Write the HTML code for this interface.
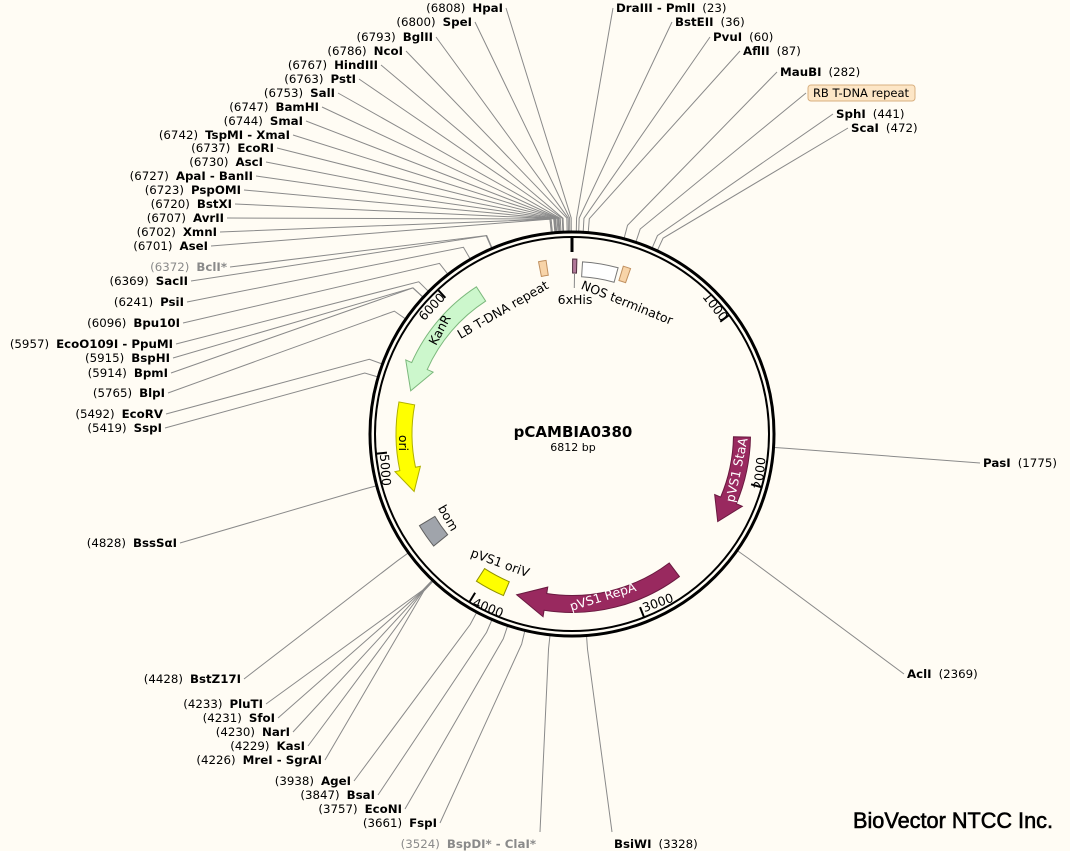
<!DOCTYPE html>
<html><head><meta charset="utf-8"><style>
html,body{margin:0;padding:0;background:#fffcf4;}
svg{display:block;font-family:"DejaVu Sans","Liberation Sans",sans-serif;}
</style></head><body>
<svg id="s" width="1070" height="851" viewBox="0 0 1070 851" xmlns="http://www.w3.org/2000/svg">
<rect width="1070" height="851" fill="#fffcf4"/>
<g id="lines" stroke="#8a8a8a" stroke-width="1" fill="none"></g>
<g id="labels" font-size="11.8"></g>
<circle cx="572" cy="434" r="202" fill="none" stroke="#000" stroke-width="3"/>
<circle cx="572" cy="434" r="197" fill="none" stroke="#000" stroke-width="2"/>
<g id="feat"></g>
<g font-size="12.5" fill="#000">
<text x="503" y="314" transform="rotate(-30 503 310)" text-anchor="middle">LB T-DNA repeat</text>
<text x="575" y="304" text-anchor="middle">6xHis</text>
<text x="627" y="307" transform="rotate(22 627 303)" text-anchor="middle">NOS terminator</text>
<text x="440" y="334" transform="rotate(-62 440 330)" text-anchor="middle">KanR</text>
<text x="403" y="447" transform="rotate(90 403 443)" text-anchor="middle">ori</text>
<text x="448" y="522" transform="rotate(60 448 518)" text-anchor="middle">bom</text>
<text x="500" y="567" transform="rotate(20 500 563)" text-anchor="middle">pVS1 oriV</text>
<text x="603" y="601" transform="rotate(-17 603 597)" text-anchor="middle" fill="#fff">pVS1 RepA</text>
<text x="737" y="474" transform="rotate(-78 737 470)" text-anchor="middle" fill="#fff">pVS1 StaA</text>
<text x="715" y="311" transform="rotate(52 715 307)" text-anchor="middle">1000</text>
<text x="432" y="311" transform="rotate(-47 432 307)" text-anchor="middle">6000</text>
<text x="385" y="474" transform="rotate(86 385 470)" text-anchor="middle">5000</text>
<text x="760" y="477" transform="rotate(-84 760 473)" text-anchor="middle">2000</text>
<text x="658" y="607" transform="rotate(-20 658 603)" text-anchor="middle">3000</text>
<text x="488" y="612" transform="rotate(22 488 608)" text-anchor="middle">4000</text>
</g>
<text x="573" y="437" text-anchor="middle" font-size="15" font-weight="bold">pCAMBIA0380</text>
<text x="573" y="451" text-anchor="middle" font-size="11">6812 bp</text>
<rect x="808" y="85" width="107" height="16" rx="3" fill="#fde6c6" stroke="#d8b080"/>
<text x="861" y="97" text-anchor="middle" font-size="11.5">RB T-DNA repeat</text>
<text x="853" y="828" font-size="22" font-family="Liberation Sans, sans-serif" stroke="#000" stroke-width="0.6" textLength="200" lengthAdjust="spacingAndGlyphs">BioVector NTCC Inc.</text>
</svg>
<script>
var cx=572,cy=434,N=6812,NS="http://www.w3.org/2000/svg";
function pt(r,a){a=a*Math.PI/180;return [cx+r*Math.sin(a),cy-r*Math.cos(a)];}
function el(t,at,p){var e=document.createElementNS(NS,t);for(var k in at)e.setAttribute(k,at[k]);(p||document.getElementById('s')).appendChild(e);return e;}
var L=document.getElementById('lines'),T=document.getElementById('labels'),F=document.getElementById('feat');
var sites=[
["HpaI",6808,503,8,"L"],["SpeI",6800,472,22,"L"],["BglII",6793,433,37,"L"],["NcoI",6786,403,51,"L"],
["HindIII",6767,378,65,"L"],["PstI",6763,356,79,"L"],["SalI",6753,335,93,"L"],["BamHI",6747,319,107,"L"],
["SmaI",6744,303,121,"L"],["TspMI - XmaI",6742,290,135,"L"],["EcoRI",6737,274,148,"L"],["AscI",6730,263,162,"L"],
["ApaI - BanII",6727,253,176,"L"],["PspOMI",6723,241,190,"L"],["BstXI",6720,232,204,"L"],["AvrII",6707,224,218,"L"],
["XmnI",6702,217,232,"L"],["AseI",6701,208,246,"L"],["BclI*",6372,227,267,"L",1],["SacII",6369,188,281,"L"],
["PsiI",6241,184,302,"L"],["Bpu10I",6096,180,323,"L"],["EcoO109I - PpuMI",5957,173,344,"L"],["BspHI",5915,170,358,"L"],
["BpmI",5914,168,373,"L"],["BlpI",5765,165,393,"L"],["EcoRV",5492,163,414,"L"],["SspI",5419,162,428,"L"],
["BssSαI",4828,177,543,"L"],["BstZ17I",4428,241,679,"L"],["PluTI",4233,263,704,"L"],["SfoI",4231,275,718,"L"],
["NarI",4230,290,732,"L"],["KasI",4229,305,746,"L"],["MreI - SgrAI",4226,322,760,"L"],["AgeI",3938,351,781,"L"],
["BsaI",3847,375,795,"L"],["EcoNI",3757,402,809,"L"],["FspI",3661,437,823,"L"],["BspDI* - ClaI*",3524,536,844,"L",1],
["DraIII - PmlI",23,616,8,"R"],["BstEII",36,675,22,"R"],["PvuI",60,713,37,"R"],["AflII",87,743,51,"R"],
["MauBI",282,780,72,"R"],["SphI",441,836,114,"R"],["ScaI",472,851,128,"R"],["PasI",1775,983,463,"R"],
["AclI",2369,907,674,"R"],["BsiWI",3328,614,844,"R"]];
sites.forEach(function(s){
 var a=s[1]/N*360,p0=pt(203,a),p1=pt(216,a),lx,ly=s[3];
 var col=s[5]?"#8a8a8a":"#000";
 var t=el('text',{x:s[2],y:s[3]+4,'text-anchor':s[4]=="L"?"end":"start",fill:col},T);
 var a1=document.createElementNS(NS,'tspan'),a2=document.createElementNS(NS,'tspan');
 if(s[4]=="L"){a1.textContent="("+s[1]+")";a2.textContent=s[0];a2.setAttribute('font-weight','bold');a2.setAttribute('dx','7');lx=s[2]+3;}
 else{a1.textContent=s[0];a1.setAttribute('font-weight','bold');a2.textContent="("+s[1]+")";a2.setAttribute('dx','7');lx=s[2]-3;}
 t.appendChild(a1);t.appendChild(a2);
 if(s[0]=="BsiWI"){lx=612;ly=832;} if(s[0]=="BspDI* - ClaI*"){lx=540;ly=832;}
 el('path',{d:"M"+p0+" L"+p1+" L"+lx+","+ly},L);
});
(function(){var a=18.4;var p0=pt(203,a),p1=pt(216,a);el('path',{d:"M"+p0+" L"+p1+" L806,93"},L);})();
[1000,2000,3000,4000,5000,6000].forEach(function(v){var a=v/N*360;el('path',{d:"M"+pt(197,a)+" L"+pt(186,a),stroke:"#000","stroke-width":2},F);});
el('path',{d:"M"+pt(197,0)+" L"+pt(182,0),stroke:"#000","stroke-width":3},F);
function arcBand(r,w,a1,a2,fill,stroke){
 var ro=r+w/2,ri=r-w/2,lg=Math.abs(a2-a1)>180?1:0;
 var d="M"+pt(ro,a1)+" A"+ro+","+ro+" 0 "+lg+" 1 "+pt(ro,a2)+" L"+pt(ri,a2)+" A"+ri+","+ri+" 0 "+lg+" 0 "+pt(ri,a1)+"Z";
 el('path',{d:d,fill:fill,stroke:stroke,'stroke-width':1},F);
}
function arrow(r,w,tail,tip,head,hw,fill,stroke){
 var dir=tip>tail?1:-1,neck=tip-dir*head,ro=r+w/2,ri=r-w/2,sw=dir>0?1:0,sw2=dir>0?0:1;
 var lg=Math.abs(neck-tail)>180?1:0;
 var d="M"+pt(ro,tail)+" A"+ro+","+ro+" 0 "+lg+" "+sw+" "+pt(ro,neck)+" L"+pt(r+hw/2,neck)+" L"+pt(r,tip)+" L"+pt(r-hw/2,neck)+" L"+pt(ri,neck)+" A"+ri+","+ri+" 0 "+lg+" "+sw2+" "+pt(ri,tail)+"Z";
 el('path',{d:d,fill:fill,stroke:stroke,'stroke-width':1},F);
}
arrow(167,17,327,285,9,30,"#ccf7cc","#7cb87c");
arrow(168,16,280.5,250,8,26,"#ffff00","#b0b000");
arrow(170,17,143,199,10,30,"#99295f","#6a1a40");
arrow(170,17,91,121,8,30,"#99295f","#6a1a40");
arcBand(169,18,231,239,"#a0a4ab","#606060");
arcBand(168,15,203,213,"#ffff00","#909000");
arcBand(168,15,349,351.5,"#f8d4a8","#c09060");
arcBand(168,14,0.2,1.6,"#b07898","#503040");
arcBand(165,15,3.5,15.5,"#ffffff","#777");
arcBand(168,15,17,19.5,"#f8d4a8","#c09060");
el('path',{d:"M"+pt(160,0.9)+" L"+pt(146,0.9),stroke:"#888"},F);
</script>
</body></html>
